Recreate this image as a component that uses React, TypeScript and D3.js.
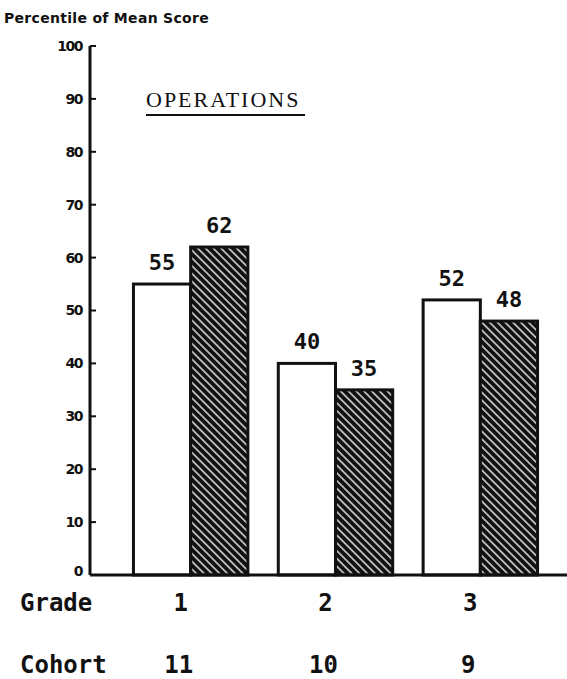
import * as d3 from "d3";

const width = 567;
const height = 679;

// grades along the x axis, with cohort numbers beneath
const grades = ["1", "2", "3"];
const cohorts = ["11", "10", "9"];
// two bars per grade: open bar and hatched bar
const openValues = [55, 40, 52];
const hatchedValues = [62, 35, 48];
const yTicks = [0, 10, 20, 30, 40, 50, 60, 70, 80, 90, 100];

const margin = { left: 90, top: 46, bottom: 575 };

const App = () => {
  const x = d3
    .scaleBand<string>()
    .domain(grades)
    .range([margin.left, 581])
    .paddingInner(0.21)
    .paddingOuter(0.3);

  const sub = d3
    .scaleBand<string>()
    .domain(["open", "hatched"])
    .range([0, x.bandwidth()])
    .padding(0);

  const y = d3.scaleLinear().domain([0, 100]).range([margin.bottom, margin.top]);

  const labelFont = "'DejaVu Sans Mono', monospace";

  return (
    <svg
      width={width}
      height={height}
      style={{ position: "absolute", left: 0, top: 0, background: "white" }}
    >
      <defs>
        {/* black fill with thin white stripes running top-left to bottom-right */}
        <pattern
          id="hatch"
          patternUnits="userSpaceOnUse"
          width={5.5}
          height={5.5}
          patternTransform="rotate(-45)"
        >
          <rect width={5.5} height={5.5} fill="#111" />
          <line x1={2.75} y1={0} x2={2.75} y2={5.5} stroke="white" strokeWidth={1.3} />
        </pattern>
      </defs>

      {/* y axis title */}
      <text
        x={4}
        y={23}
        fontFamily="'DejaVu Sans', sans-serif"
        fontWeight="bold"
        fontSize={14}
        letterSpacing={0.3}
        fill="#111"
      >
        Percentile of Mean Score
      </text>

      {/* chart title */}
      <text
        x={146}
        y={107}
        fontFamily="'Liberation Serif', serif"
        fontSize={22}
        letterSpacing={2}
        fill="#111"
      >
        OPERATIONS
      </text>
      <line x1={146} x2={305} y1={115} y2={115} stroke="#111" strokeWidth={2} />

      {/* y axis */}
      <line
        x1={margin.left}
        x2={margin.left}
        y1={y(100)}
        y2={y(0)}
        stroke="#111"
        strokeWidth={3}
      />
      {yTicks.map((t) => (
        <g key={t}>
          <line
            x1={margin.left}
            x2={margin.left + 6}
            y1={y(t)}
            y2={y(t)}
            stroke="#111"
            strokeWidth={2}
          />
          <text
            x={margin.left - 8}
            y={y(t) - (t === 0 ? 4 : 0)}
            dy="0.35em"
            textAnchor="end"
            fontFamily="'DejaVu Sans', sans-serif"
            fontWeight="bold"
            fontSize={14}
            letterSpacing={-1.5}
            fill="#111"
          >
            {t}
          </text>
        </g>
      ))}

      {/* bars */}
      {grades.map((g, i) => {
        const x0 = x(g) ?? 0;
        const bars = [
          { key: "open", v: openValues[i], fill: "white" },
          { key: "hatched", v: hatchedValues[i], fill: "url(#hatch)" },
        ];
        return (
          <g key={g}>
            {bars.map((b) => {
              const bx = x0 + (sub(b.key) ?? 0);
              return (
                <g key={b.key}>
                  <rect
                    x={bx}
                    y={y(b.v)}
                    width={sub.bandwidth()}
                    height={y(0) - y(b.v)}
                    fill={b.fill}
                    stroke="#111"
                    strokeWidth={3}
                  />
                  <text
                    x={bx + sub.bandwidth() / 2}
                    y={y(b.v) - 14}
                    textAnchor="middle"
                    fontFamily={labelFont}
                    fontWeight="bold"
                    fontSize={22}
                    fill="#111"
                  >
                    {b.v}
                  </text>
                </g>
              );
            })}
          </g>
        );
      })}

      {/* x axis */}
      <line
        x1={margin.left}
        x2={width}
        y1={y(0)}
        y2={y(0)}
        stroke="#111"
        strokeWidth={3}
      />

      {/* category rows */}
      <text x={20} y={611} fontFamily={labelFont} fontWeight="bold" fontSize={24} fill="#111">
        Grade
      </text>
      <text x={20} y={673} fontFamily={labelFont} fontWeight="bold" fontSize={24} fill="#111">
        Cohort
      </text>
      {grades.map((g, i) => (
        <g key={g}>
          <text
            x={(x(g) ?? 0) + x.bandwidth() / 2 - 10}
            y={611}
            textAnchor="middle"
            fontFamily={labelFont}
            fontWeight="bold"
            fontSize={24}
            fill="#111"
          >
            {g}
          </text>
          <text
            x={(x(g) ?? 0) + x.bandwidth() / 2 - 12}
            y={673}
            textAnchor="middle"
            fontFamily={labelFont}
            fontWeight="bold"
            fontSize={24}
            fill="#111"
          >
            {cohorts[i]}
          </text>
        </g>
      ))}
    </svg>
  );
};

export default App;
